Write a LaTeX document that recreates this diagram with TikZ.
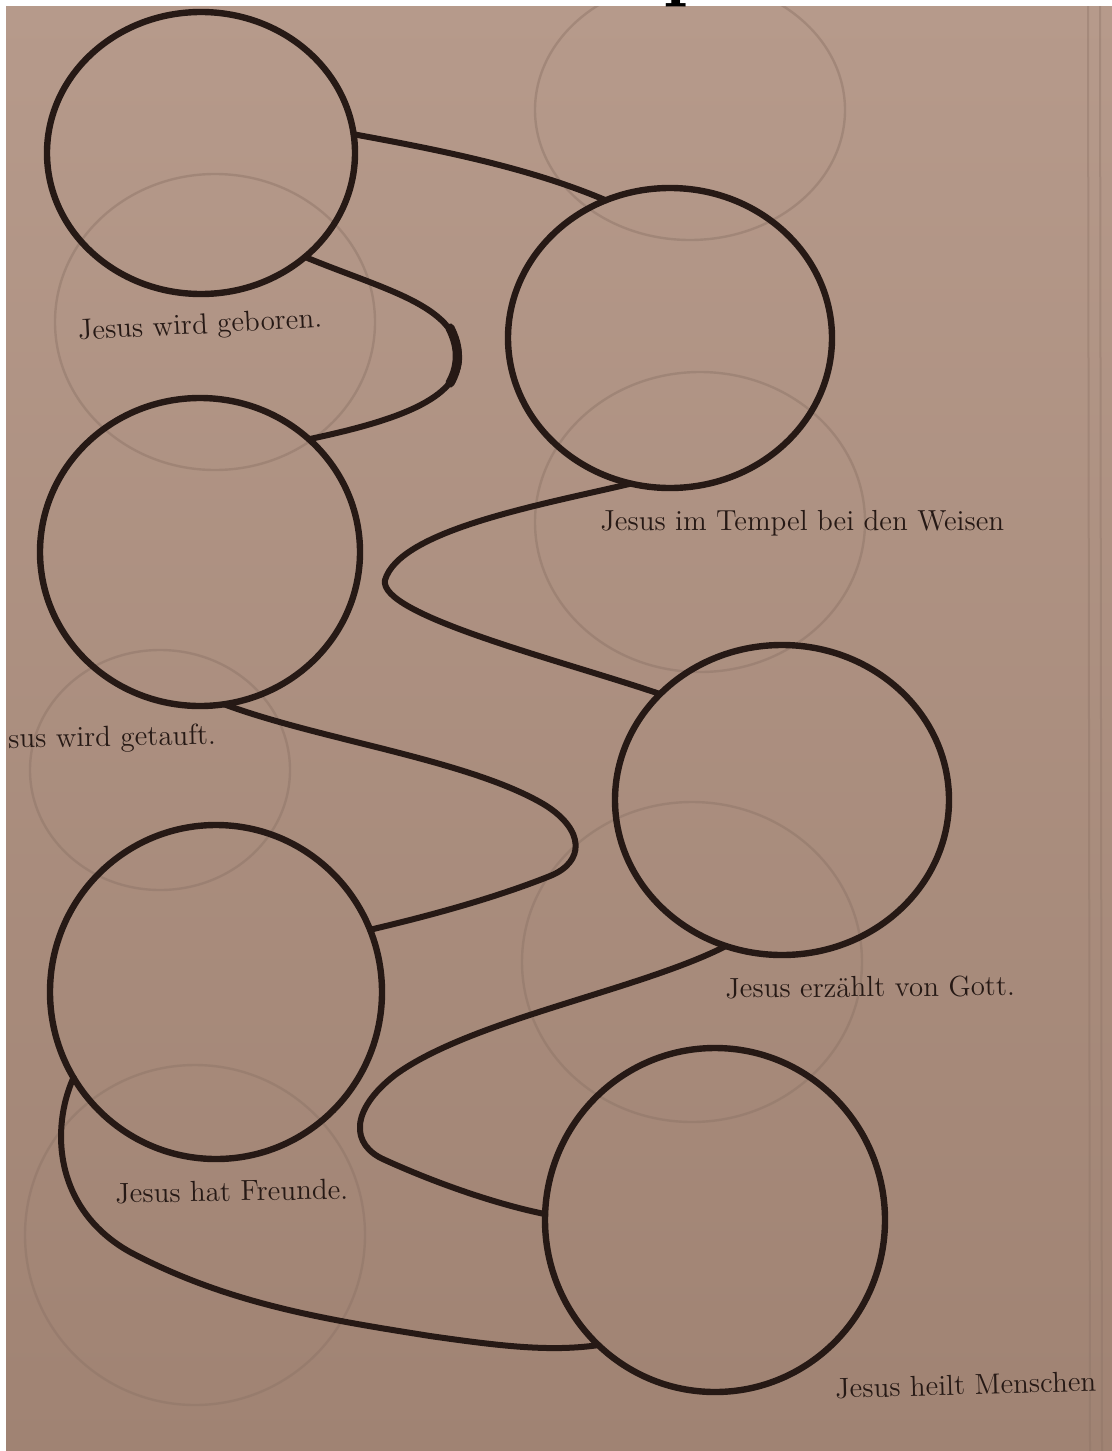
\documentclass[tikz,border=0pt]{standalone}
\usetikzlibrary{shapes.geometric}
\definecolor{paper}{RGB}{182,154,139}
\definecolor{paperdark}{RGB}{160,131,115}
\definecolor{ink}{RGB}{38,25,21}
\definecolor{ghost}{RGB}{140,115,102}
\begin{document}
\begin{tikzpicture}[x=0.5pt,y=-0.5pt,
  ring/.style={ellipse, draw=ink, line width=3.2pt, inner sep=0pt, outer sep=0pt},
  link/.style={draw=ink, line width=3pt, line cap=round},
  lbl/.style={font=\fontsize{14.5}{16}\selectfont, text=ink, inner sep=0pt, anchor=base west},
  ghostring/.style={ellipse, draw=ghost, line width=1.2pt, draw opacity=0.45, inner sep=0pt, outer sep=0pt}]
\useasboundingbox (0,0) rectangle (1112,1451);
\fill[white] (0,0) rectangle (1112,1451);
\shade[top color=paper, bottom color=paperdark] (6,6) rectangle (1112,1451);
% cut-off title
\begin{scope}
\clip (0,0) rectangle (1112,6);
\node[font=\bfseries\fontsize{40}{40}\selectfont, anchor=base, inner sep=0pt] (title) at (688,-9) {p};
\end{scope}
% show-through from the back of the page
\begin{scope}
\clip (6,6) rectangle (1112,1451);
\draw[ghost, line width=1pt, opacity=0.4] (1088,6) -- (1090,1451);
\draw[ghost, line width=1pt, opacity=0.4] (1100,6) -- (1102,1451);
\node[ghostring, minimum width=155pt, minimum height=130pt] (g1) at (690,110) {};
\node[ghostring, minimum width=160pt, minimum height=148pt] (g2) at (215,322) {};
\node[ghostring, minimum width=165pt, minimum height=150pt] (g3) at (700,522) {};
\node[ghostring, minimum width=130pt, minimum height=120pt] (g4) at (160,770) {};
\node[ghostring, minimum width=170pt, minimum height=160pt] (g5) at (692,962) {};
\node[ghostring, minimum width=170pt, minimum height=170pt] (g6) at (195,1235) {};
\end{scope}
% circles
\node[ring, minimum width=154pt, minimum height=141pt] (c1) at (201,153) {};
\node[ring, minimum width=162pt, minimum height=150pt] (c2) at (670,338) {};
\node[ring, minimum width=160pt, minimum height=154pt] (c3) at (200,552) {};
\node[ring, minimum width=167pt, minimum height=155pt] (c4) at (782,800) {};
\node[ring, minimum width=166pt, minimum height=167pt] (c5) at (216,992) {};
\node[ring, minimum width=170pt, minimum height=172pt] (c6) at (715,1220) {};
% connectors
\draw[link] (c1.7) .. controls (440,150) and (530,168) .. (c2.115);
\draw[link] (c1.-45) .. controls (385,290) and (455,305) .. (459,355) .. controls (462,400) and (390,422) .. (c3.46);
\draw[ink, line width=4.6pt, line cap=round] (450,328) .. controls (457,342) and (458,352) .. (457,362) .. controls (456,370) and (454,376) .. (450,383);
\draw[link] (c2.-105) .. controls (540,505) and (400,530) .. (385,580) .. controls (378,615) and (560,660) .. (c4.139);
\draw[link] (c3.-81) .. controls (320,740) and (470,760) .. (545,805) .. controls (585,830) and (585,862) .. (550,876) .. controls (490,900) and (420,918) .. (c5.22);
\draw[link] (c4.-111) .. controls (640,990) and (470,1020) .. (395,1075) .. controls (350,1110) and (350,1145) .. (385,1160) .. controls (440,1185) and (500,1205) .. (c6.178);
\draw[link] (c5.-149) .. controls (50,1130) and (55,1210) .. (130,1252) .. controls (230,1305) and (330,1320) .. (430,1336) .. controls (500,1346) and (550,1352) .. (c6.-133);
% labels
\node[lbl, rotate=3] (l1) at (78,340) {Jesus wird geboren.};
\node[lbl] (l2) at (600,530) {Jesus im Tempel bei den Weisen};
\node[lbl, rotate=1] (l3) at (8,748) {sus wird getauft.};
\node[lbl, rotate=0.5] (l4) at (725,998) {Jesus erzählt von Gott.};
\node[lbl, rotate=1] (l5) at (115,1203) {Jesus hat Freunde.};
\node[lbl, rotate=1.5] (l6) at (835,1398) {Jesus heilt Menschen};
\end{tikzpicture}
\end{document}
